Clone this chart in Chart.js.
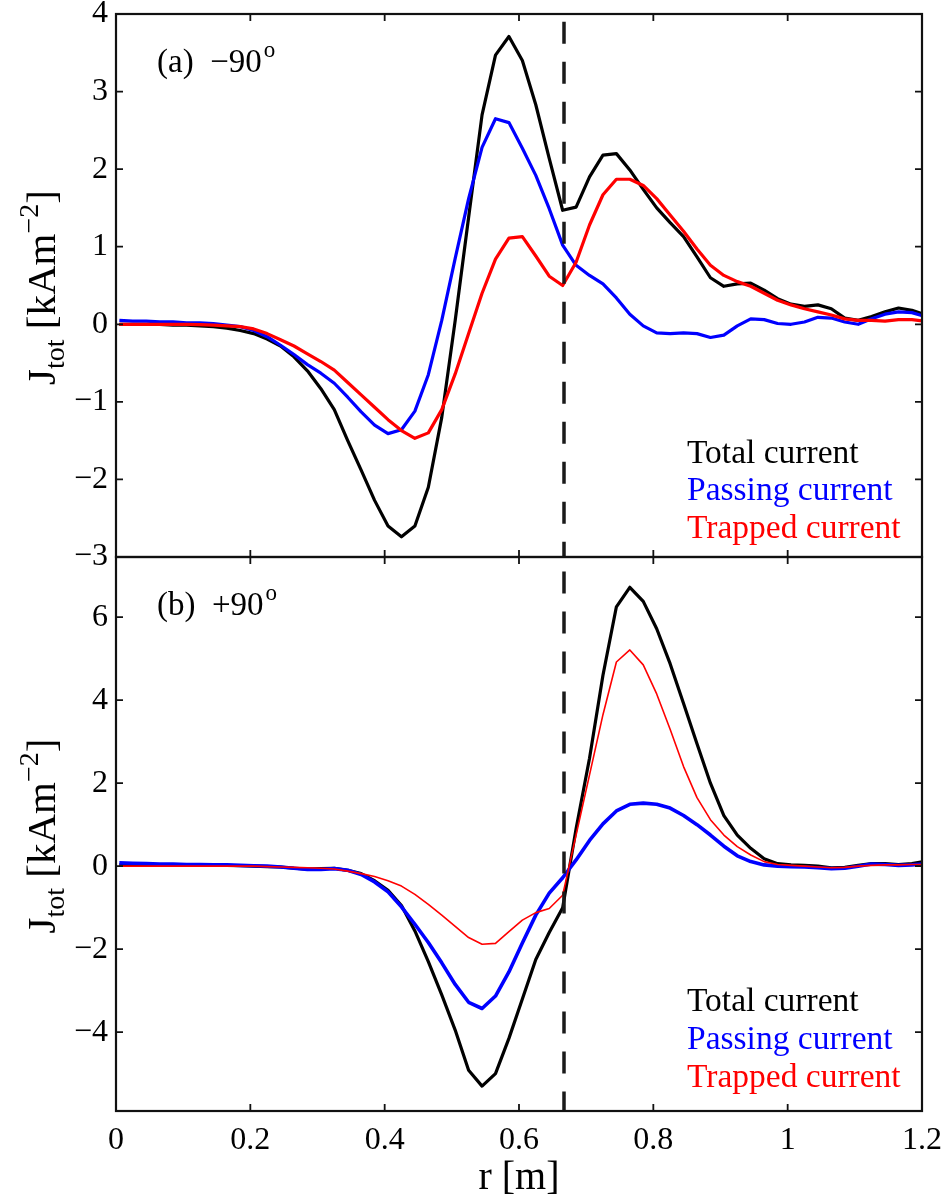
<!DOCTYPE html>
<html><head><meta charset="utf-8">
<script src="https://cdn.jsdelivr.net/npm/chart.js@4.4.0/dist/chart.umd.min.js"></script>
<style>
html,body{margin:0;padding:0;background:#fff;}
body{width:947px;height:1196px;position:relative;overflow:hidden;}
#wa{position:absolute;left:0;top:0;width:947px;height:600px;}
#wb{position:absolute;left:0;top:540px;width:947px;height:656px;}
canvas{display:block;}
</style></head><body>
<div id="wa"><canvas id="ca" width="947" height="600"></canvas></div>
<div id="wb"><canvas id="cb" width="947" height="656"></canvas></div>
<script>
// ---- data ----
const rGrid = [0.005,0.025,0.045,0.065,0.085,0.105,0.125,0.145,0.165,0.185,
  0.205,0.225,0.245,0.265,0.285,0.305,0.325,0.345,0.365,0.385,
  0.405,0.425,0.445,0.465,0.485,0.505,0.525,0.545,0.565,0.585,
  0.605,0.625,0.645,0.665,0.685,0.705,0.725,0.745,0.765,0.785,
  0.805,0.825,0.845,0.865,0.885,0.905,0.925,0.945,0.965,0.985,
  1.005,1.025,1.045,1.065,1.085,1.105,1.125,1.145,1.165,1.185,1.205];

// panel (a) -90 deg
const totalA = [0,0,0,0,-0.01,-0.01,-0.02,-0.03,-0.05,-0.08,
  -0.12,-0.19,-0.28,-0.42,-0.60,-0.83,-1.10,-1.50,-1.88,-2.27,
  -2.60,-2.74,-2.60,-2.10,-1.20,0.05,1.38,2.70,3.47,3.71,
  3.40,2.83,2.14,1.47,1.51,1.90,2.18,2.20,1.99,1.74,
  1.50,1.31,1.13,0.87,0.60,0.49,0.52,0.53,0.44,0.33,
  0.26,0.23,0.25,0.20,0.08,0.05,0.10,0.16,0.21,0.18,0.12];
const passingA = [0.05,0.04,0.04,0.03,0.03,0.02,0.02,0.01,-0.01,-0.03,
  -0.08,-0.16,-0.27,-0.39,-0.52,-0.63,-0.76,-0.94,-1.13,-1.30,
  -1.41,-1.36,-1.12,-0.65,0.05,0.85,1.62,2.28,2.65,2.60,
  2.27,1.92,1.49,1.02,0.76,0.63,0.52,0.34,0.13,-0.02,
  -0.11,-0.12,-0.11,-0.12,-0.17,-0.14,-0.02,0.07,0.06,0.01,
  0.0,0.03,0.09,0.08,0.03,0.0,0.07,0.13,0.16,0.15,0.10];
const trappedA = [0,0,0,0,0,0,-0.005,-0.01,-0.02,-0.03,
  -0.06,-0.12,-0.20,-0.28,-0.38,-0.48,-0.59,-0.75,-0.91,-1.07,
  -1.23,-1.37,-1.47,-1.40,-1.10,-0.64,-0.12,0.40,0.84,1.11,
  1.13,0.88,0.62,0.50,0.80,1.28,1.67,1.87,1.87,1.79,
  1.62,1.41,1.20,0.97,0.76,0.63,0.55,0.49,0.40,0.31,
  0.25,0.20,0.16,0.12,0.07,0.05,0.05,0.04,0.06,0.06,0.04];

// panel (b) +90 deg
const totalB = [0.03,0.03,0.03,0.03,0.03,0.03,0.03,0.02,0.02,0.01,
  0.0,-0.01,-0.02,-0.05,-0.07,-0.06,-0.05,-0.10,-0.18,-0.35,
  -0.58,-0.95,-1.56,-2.30,-3.10,-3.95,-4.92,-5.30,-5.00,-4.15,
  -3.20,-2.25,-1.60,-1.00,0.90,2.60,4.60,6.25,6.72,6.38,
  5.72,4.88,3.92,2.95,2.00,1.22,0.75,0.43,0.18,0.06,
  0.03,0.02,0.0,-0.04,-0.03,0.02,0.06,0.06,0.04,0.06,0.12];
const passingB = [0.08,0.07,0.06,0.05,0.05,0.04,0.04,0.03,0.03,0.02,
  0.01,0.0,-0.02,-0.05,-0.08,-0.08,-0.06,-0.10,-0.20,-0.38,
  -0.62,-0.98,-1.40,-1.84,-2.33,-2.85,-3.28,-3.43,-3.13,-2.55,
  -1.85,-1.18,-0.65,-0.28,0.15,0.62,1.02,1.33,1.49,1.52,
  1.49,1.40,1.22,1.00,0.75,0.48,0.25,0.11,0.03,0.0,
  -0.01,-0.02,-0.04,-0.06,-0.05,0.0,0.05,0.04,0.02,0.03,0.06];
const trappedB = [0,0,0,0,0,0,0,0,0,0,
  0.0,-0.01,-0.02,-0.03,-0.04,-0.05,-0.07,-0.12,-0.18,-0.25,
  -0.35,-0.48,-0.68,-0.92,-1.18,-1.45,-1.72,-1.88,-1.86,-1.58,
  -1.30,-1.12,-1.02,-0.70,0.75,2.20,3.65,4.92,5.21,4.85,
  4.15,3.30,2.40,1.65,1.12,0.75,0.47,0.27,0.11,0.04,
  0.02,0.0,-0.02,-0.04,-0.03,0.0,0.02,0.03,0.03,0.04,0.04];

// separatrix marker (dashed vertical line)
const sepR = 0.667;
const sepA = [3.9, -3];
const sepB = [7.1, -5.9];

// axes
const xTicks = [0, 0.2, 0.4, 0.6, 0.8, 1, 1.2];
const yTicksA = [-3, -2, -1, 0, 1, 2, 3, 4];
const yTicksB = [-4, -2, 0, 2, 4, 6];
const yRangeA = [-3, 4];
const yRangeB = [-5.9, 7.45];
const legendItems = ['Total current', 'Passing current', 'Trapped current'];
const legendColors = ['#000000', '#0000ff', '#ff0000'];

// ---- rendering ----
const FONT = "'Liberation Serif', 'Times New Roman', serif";
Chart.defaults.font.family = FONT;
Chart.defaults.font.size = 32;
Chart.defaults.color = '#000';

const pts = (ys) => rGrid.map((r, i) => ({x: r, y: ys[i]}));
const fmt = (v) => (v < 0 ? '\u2212' + Math.abs(v) : String(v));

function framePlugin(cfg) {
  return {
    id: 'frame' + cfg.key,
    afterDatasetsDraw(chart) {
      const {ctx, chartArea: a, scales} = chart;
      const x = scales.x, y = scales.y;
      ctx.save();
      // box
      ctx.strokeStyle = '#111';
      ctx.lineWidth = 2.2;
      ctx.strokeRect(a.left, a.top, a.right - a.left, a.bottom - a.top);
      // inward ticks
      const tl = 7;
      ctx.lineWidth = 1.8;
      ctx.beginPath();
      for (const v of xTicks) {
        const px = x.getPixelForValue(v);
        ctx.moveTo(px, a.top); ctx.lineTo(px, a.top + tl);
        ctx.moveTo(px, a.bottom); ctx.lineTo(px, a.bottom - tl);
      }
      for (const v of cfg.yTicks) {
        const py = y.getPixelForValue(v);
        ctx.moveTo(a.left, py); ctx.lineTo(a.left + tl, py);
        ctx.moveTo(a.right, py); ctx.lineTo(a.right - tl, py);
      }
      ctx.stroke();

      ctx.fillStyle = '#000';
      ctx.textBaseline = 'alphabetic';
      ctx.textAlign = 'left';
      // panel label
      ctx.font = '33px ' + FONT;
      const lx = a.left + 41, ly = a.top + cfg.labelDy;
      ctx.fillText(cfg.label, lx, ly);
      const w = ctx.measureText(cfg.label).width;
      ctx.font = '23px ' + FONT;
      ctx.fillText('o', lx + w + 2, ly - 15);

      // legend text
      ctx.font = '33.5px ' + FONT;
      legendItems.forEach((t, i) => {
        ctx.fillStyle = legendColors[i];
        ctx.fillText(t, a.left + 571, a.bottom - cfg.legendDy[i]);
      });

      // y-axis title with sub/superscripts
      ctx.fillStyle = '#000';
      const parts = [
        {t: 'J', s: 41, dy: 0},
        {t: 'tot', s: 28, dy: 9},
        {t: ' [kAm', s: 41, dy: 0},
        {t: '\u22122', s: 28, dy: -17},
        {t: ']', s: 41, dy: 0}
      ];
      let total = 0;
      parts.forEach(p => { ctx.font = p.s + 'px ' + FONT; p.w = ctx.measureText(p.t).width; total += p.w; });
      ctx.save();
      ctx.translate(55, (a.top + a.bottom) / 2 + 2);
      ctx.rotate(-Math.PI / 2);
      let cx = -total / 2;
      parts.forEach(p => { ctx.font = p.s + 'px ' + FONT; ctx.fillText(p.t, cx, p.dy); cx += p.w; });
      ctx.restore();

      // x-axis title (bottom panel)
      if (cfg.xTitle) {
        ctx.font = '40px ' + FONT;
        ctx.textAlign = 'center';
        ctx.fillText(cfg.xTitle, (a.left + a.right) / 2, a.bottom + 78);
      }
      ctx.restore();
    }
  };
}

function makeChart(id, cfg) {
  const datasets = [
    {data: [{x: sepR, y: cfg.sep[0]}, {x: sepR, y: cfg.sep[1]}], borderColor: '#1a1a1a', borderWidth: 3.5,
     borderDash: [22, 18], borderCapStyle: 'butt', pointRadius: 0},
    {data: pts(cfg.trapped), borderColor: '#ff0000', borderWidth: cfg.trappedW, pointRadius: 0},
    {data: pts(cfg.passing), borderColor: '#0000ff', borderWidth: cfg.passingW, pointRadius: 0},
    {data: pts(cfg.total), borderColor: '#000000', borderWidth: 3.2, pointRadius: 0}
  ];
  return new Chart(document.getElementById(id), {
    type: 'line',
    data: {datasets},
    options: {
      responsive: false,
      animation: false,
      devicePixelRatio: 1,
      events: [],
      layout: {padding: {left: 0, right: 25, top: cfg.padTop, bottom: 0}},
      elements: {line: {tension: 0, borderJoinStyle: 'round'}},
      plugins: {legend: {display: false}, tooltip: {enabled: false}},
      scales: {
        x: {
          type: 'linear', min: 0, max: 1.2,
          grid: {display: false, drawTicks: false},
          border: {display: false},
          afterBuildTicks: (s) => { s.ticks = xTicks.map(v => ({value: v})); },
          afterFit: (s) => { s.height = cfg.xHeight; s.paddingLeft = 0; s.paddingRight = 0; },
          ticks: {display: cfg.showX, padding: 10, autoSkip: false, maxRotation: 0,
                  callback: (v) => fmt(v), font: {size: 32}}
        },
        y: {
          type: 'linear', min: cfg.yRange[0], max: cfg.yRange[1],
          grid: {display: false, drawTicks: false},
          border: {display: false},
          afterBuildTicks: (s) => { s.ticks = cfg.yTicks.map(v => ({value: v})); },
          afterFit: (s) => { s.width = 116; s.paddingTop = 0; s.paddingBottom = 0; },
          ticks: {padding: 8, autoSkip: false, callback: (v) => fmt(v), font: {size: 32}}
        }
      }
    },
    plugins: [framePlugin(cfg)]
  });
}

makeChart('ca', {
  key: 'A', sep: sepA, total: totalA, passing: passingA, trapped: trappedA,
  trappedW: 3.2, passingW: 3.2, yRange: yRangeA, yTicks: yTicksA,
  padTop: 14, xHeight: 43, showX: false, label: '(a)  \u221290', labelDy: 58,
  legendDy: [94, 57, 19], xTitle: null
});
makeChart('cb', {
  key: 'B', sep: sepB, total: totalB, passing: passingB, trapped: trappedB,
  trappedW: 1.6, passingW: 3.6, yRange: yRangeB, yTicks: yTicksB,
  padTop: 17, xHeight: 85, showX: true, label: '(b)  +90', labelDy: 58,
  legendDy: [100, 62, 24], xTitle: 'r [m]'
});
</script>
</body></html>
